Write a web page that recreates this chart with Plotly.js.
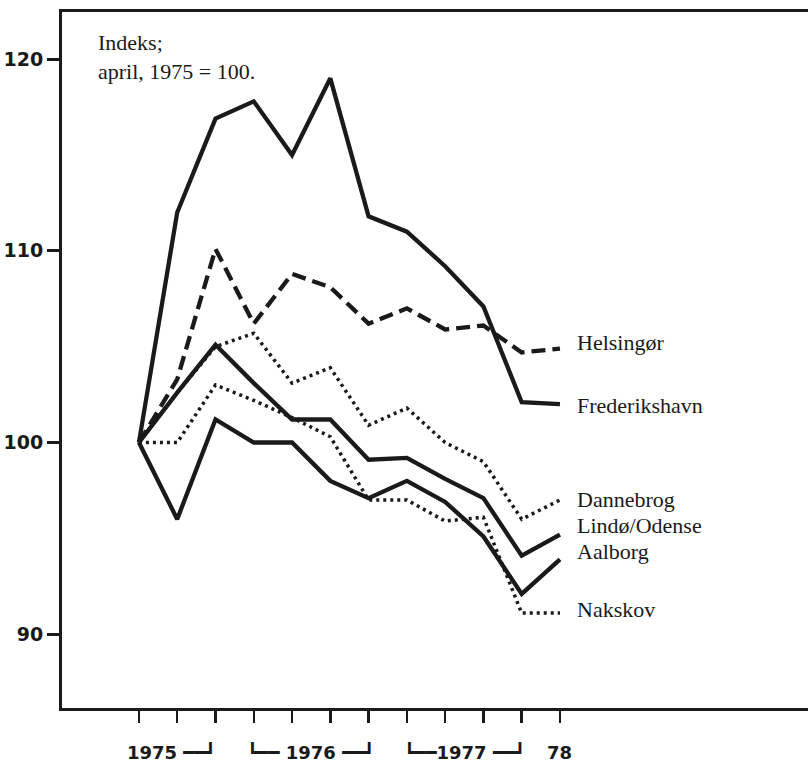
<!DOCTYPE html>
<html>
<head>
<meta charset="utf-8">
<script src="https://cdn.plot.ly/plotly-3.0.1.min.js"></script>
<style>html,body{margin:0;padding:0;background:#fff;}#chart{width:808px;height:763px;}</style>
</head>
<body>
<div id="chart"></div>
<script>
// Quarters: April 1975 ... January 1978 (index positions on the x axis)
const quarters = [0, 1, 2, 3, 4, 5, 6, 7, 8, 9, 10, 11];
const quarterNames = ["apr 1975","jul 1975","okt 1975","jan 1976","apr 1976","jul 1976","okt 1976","jan 1977","apr 1977","jul 1977","okt 1977","jan 1978"];

const frederikshavn = [100, 112.0, 116.9, 117.8, 115.0, 119.0, 111.8, 111.0, 109.2, 107.1, 102.1, 102.0];
const helsingor     = [100, 103.3, 110.1, 106.2, 108.8, 108.1, 106.2, 107.0, 105.9, 106.1, 104.7, 104.9];
const dannebrog     = [100, 102.6, 105.0, 105.7, 103.1, 103.9, 100.9, 101.8, 100.0, 99.0, 96.0, 97.0];
const lindoOdense   = [100, 102.6, 105.1, 103.1, 101.2, 101.2, 99.1, 99.2, 98.1, 97.1, 94.1, 95.2];
const aalborg       = [100, 96.0, 101.2, 100.0, 100.0, 98.0, 97.1, 98.0, 96.9, 95.1, 92.1, 93.9];
const nakskov       = [100, 100.0, 103.0, 102.2, 101.3, 100.3, 97.0, 97.0, 95.9, 96.1, 91.1, 91.1];

const seriesNames = ["Helsingør", "Frederikshavn", "Dannebrog", "Lindø/Odense", "Aalborg", "Nakskov"];
const yTicks = [90, 100, 110, 120];
const yearLabels = ["1975 ━━┛", "┗━━ 1976 ━━┛", "┗━━1977 ━━┛", "78"];
const yearLabelPos = [2, 4.5, 8.5, 11];
const noteText = "Indeks;<br>april, 1975 = 100.";

const ink = "#1a1a1a";
function line(y, name, dash, w) {
  return {x: quarters, y: y, name: name, type: "scatter", mode: "lines",
          line: {color: ink, width: w, dash: dash}, hoverinfo: "x+y+name", text: quarterNames};
}
const data = [
  line(frederikshavn, "Frederikshavn", "solid", 4.3),
  line(helsingor, "Helsingør", "14px,7px", 4.3),
  line(dannebrog, "Dannebrog", "3px,4px", 3.5),
  line(lindoOdense, "Lindø/Odense", "solid", 4.3),
  line(aalborg, "Aalborg", "solid", 4.3),
  line(nakskov, "Nakskov", "3px,4px", 3.5)
];

const lastVals = {
  "Helsingør": 105.2, "Frederikshavn": 101.95, "Dannebrog": 97.05,
  "Lindø/Odense": 95.65, "Aalborg": 94.3, "Nakskov": 91.3
};
const serif = {family: "Liberation Serif, Times New Roman, serif", size: 22, color: ink};
const annotations = seriesNames.map(n => ({
  x: 11.38, y: lastVals[n], xref: "x", yref: "y", text: n, showarrow: false,
  xanchor: "left", yanchor: "middle", font: serif
}));
annotations.push({x: -1.12, y: 121.6, xref: "x", yref: "y", text: noteText, showarrow: false,
  xanchor: "left", yanchor: "top", align: "left", font: serif});
yearLabels.forEach((t, i) => {
  annotations.push({x: yearLabelPos[i], y: 0, xref: "x", yref: "paper", yshift: -44,
    text: t, showarrow: false, xanchor: i === 0 ? "right" : "center", yanchor: "middle",
    xshift: i === 0 ? 3 : 0,
    font: {family: "DejaVu Sans", size: 18, color: ink, weight: "bold"}});
});

const layout = {
  width: 808, height: 763,
  margin: {l: 62, r: 0, t: 12, b: 55},
  paper_bgcolor: "#fff", plot_bgcolor: "#fff",
  showlegend: false,
  xaxis: {range: [-2.01, 17.48], tickvals: quarters, showticklabels: false,
          ticks: "outside", ticklen: 12, tickwidth: 2.5, tickcolor: ink,
          showline: true, linewidth: 3, linecolor: ink, mirror: true,
          showgrid: false, zeroline: false},
  yaxis: {range: [86.15, 122.46], tickvals: yTicks, ticks: "outside", ticklen: 12,
          tickwidth: 3, tickcolor: ink, showline: true, linewidth: 3, linecolor: ink,
          showgrid: false, zeroline: false,
          tickfont: {family: "DejaVu Sans", size: 19, color: ink, weight: "bold"}},
  annotations: annotations
};
Plotly.newPlot("chart", data, layout, {displayModeBar: false, staticPlot: true});
</script>
</body>
</html>
